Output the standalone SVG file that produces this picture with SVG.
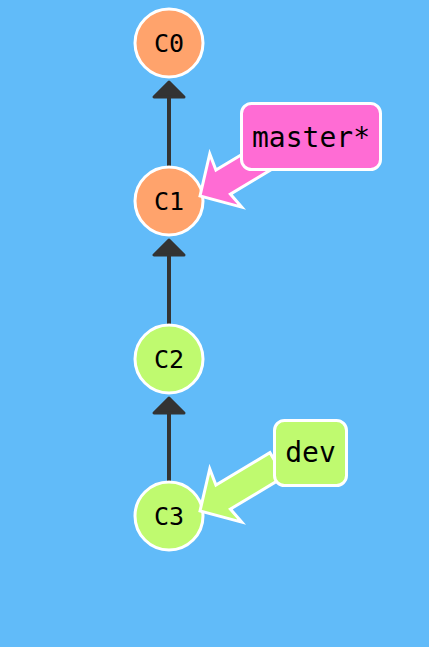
<svg xmlns="http://www.w3.org/2000/svg" width="429" height="647" viewBox="0 0 429 647">
<style>
.node circle{stroke:#fff;stroke-width:3}
.orange circle{fill:#ffa36c}
.green circle{fill:#bffa6f}
.ntext{font-family:"DejaVu Sans Mono","Liberation Mono",monospace;font-size:25px;fill:#000;text-anchor:middle}
.ltext{font-family:"DejaVu Sans Mono","Liberation Mono",monospace;font-size:28px;fill:#000;text-anchor:middle}
.edge line{stroke:#333;stroke-width:4}
.edge polygon{fill:#333;stroke:#333;stroke-width:3;stroke-linejoin:round}
.lab rect,.lab use{stroke:#fff;stroke-width:3;stroke-linejoin:miter}
.pink{fill:#ff6cd4}
.lgreen{fill:#bffa6f}
</style>
<defs>
<polygon id="fat" points="0,0 30,-31 27,-14 90,-14 90,14 27,14 30,31"/>
</defs>
<rect width="429" height="647" fill="#61bbf9"/>
<g id="connectors" class="edge">
<line x1="169" y1="166" x2="169" y2="94"/>
<polygon points="154,97 184,97 169,82"/>
<line x1="169" y1="324" x2="169" y2="252"/>
<polygon points="154,255 184,255 169,240"/>
<line x1="169" y1="481" x2="169" y2="410"/>
<polygon points="154,413 184,413 169,398"/>
</g>
<g id="C0" class="node orange"><circle cx="169" cy="43" r="34"/><text class="ntext" x="169" y="52">C0</text></g>
<g id="C1" class="node orange"><circle cx="169" cy="201" r="34"/><text class="ntext" x="169" y="210">C1</text></g>
<g id="C2" class="node green"><circle cx="169" cy="359" r="34"/><text class="ntext" x="169" y="368">C2</text></g>
<g id="C3" class="node green"><circle cx="169" cy="516" r="34"/><text class="ntext" x="169" y="525">C3</text></g>
<g id="master" class="lab">
<use href="#fat" class="pink" transform="translate(200,196) rotate(-31)"/>
<rect class="pink" x="241.5" y="103.5" width="139" height="66" rx="10"/>
<text class="ltext" x="311" y="147">master*</text>
</g>
<g id="dev" class="lab">
<use href="#fat" class="lgreen" transform="translate(200,511) rotate(-31)"/>
<rect class="lgreen" x="274.5" y="420.5" width="72" height="65" rx="10"/>
<text class="ltext" x="310.5" y="462">dev</text>
</g>
</svg>
